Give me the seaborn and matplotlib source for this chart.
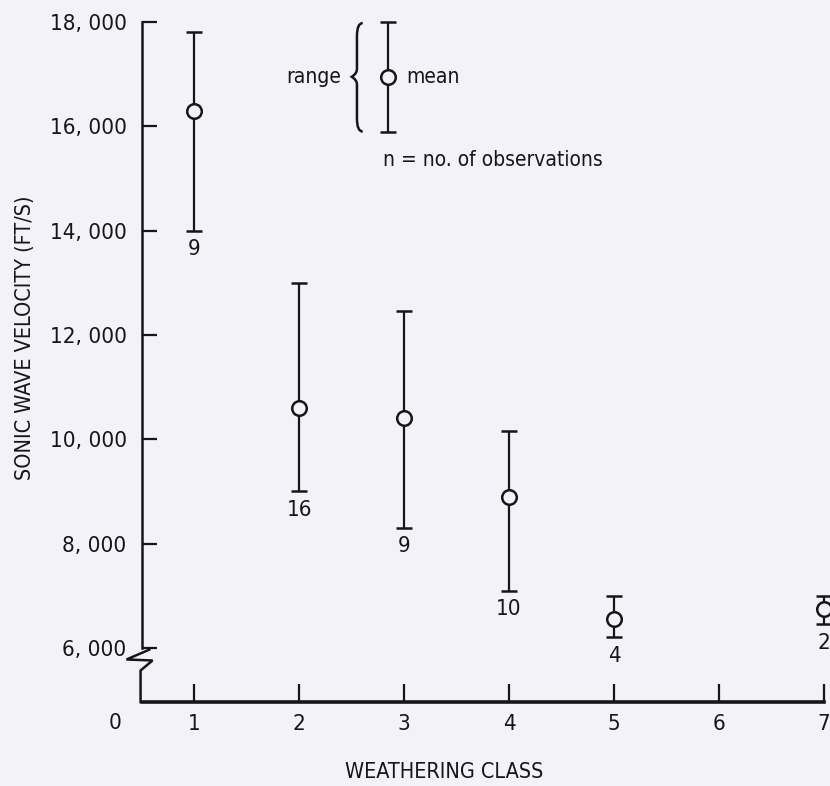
import matplotlib
matplotlib.use('Agg')
import matplotlib.pyplot as plt
from matplotlib.path import Path
from matplotlib.patches import PathPatch
import seaborn as sns
import pandas as pd

# weathering class vs sonic wave velocity (ft/s)
classes = [1, 2, 3, 4, 5, 7]
mean_vel = [16300, 10600, 10400, 8900, 6550, 6740]
min_vel = [14000, 9000, 8300, 7100, 6200, 6450]
max_vel = [17800, 13000, 12450, 10150, 7000, 7000]
n_obs = [9, 16, 9, 10, 4, 2]

y_ticks = [6000, 8000, 10000, 12000, 14000, 16000, 18000]
y_ticklabels = ['6, 000', '8, 000', '10, 000', '12, 000', '14, 000', '16, 000', '18, 000']
x_ticks = [1, 2, 3, 4, 5, 6, 7]

df = pd.DataFrame({'cls': classes, 'mean': mean_vel, 'lo': min_vel, 'hi': max_vel, 'n': n_obs})

sns.set_theme(style='white')
plt.rcParams['font.family'] = ['DejaVu Sans']
plt.rcParams['font.stretch'] = 'condensed'
ink = '#161616'
bg = '#f3f2f8'

fig = plt.figure(figsize=(8.3, 7.86), dpi=100, facecolor=bg)
ax = fig.add_axes([0.171, 0.107, 0.829, 0.865])
ax.set_facecolor(bg)

# range bars
ax.errorbar(df['cls'], df['mean'],
            yerr=[df['mean'] - df['lo'], df['hi'] - df['mean']],
            fmt='none', ecolor=ink, elinewidth=1.6, capsize=5.5, capthick=1.8, zorder=2)
# means
sns.scatterplot(data=df, x='cls', y='mean', ax=ax, s=110, marker='o',
                facecolor=bg, edgecolor=ink, linewidth=1.8, zorder=3, clip_on=False)

for c, lo, n in zip(classes, min_vel, n_obs):
    ax.annotate(str(n), (c, lo), xytext=(0, -6), textcoords='offset points',
                ha='center', va='top', fontsize=16, color=ink)

# legend key
lx, llo, lmean, lhi = 2.85, 15900, 16950, 18000
ax.errorbar([lx], [lmean], yerr=[[lmean - llo], [lhi - lmean]], fmt='none',
            ecolor=ink, elinewidth=1.6, capsize=5.5, capthick=1.8, clip_on=False)
ax.scatter([lx], [lmean], s=110, facecolor=bg, edgecolor=ink, linewidth=1.8, zorder=3, clip_on=False)

# curly brace
bt, bb, bm = 17980, 15900, lmean
xr, xv, xt = 2.605, 2.55, 2.50
brace = Path([(xr, bt), (xv, bt), (xv, bt - 250),
              (xv, bm + 150), (xv, bm + 60), (xt, bm),
              (xv, bm - 60), (xv, bm - 150),
              (xv, bb + 250), (xv, bb), (xr, bb)],
             [Path.MOVETO, Path.CURVE3, Path.CURVE3,
              Path.LINETO, Path.CURVE3, Path.CURVE3,
              Path.CURVE3, Path.CURVE3,
              Path.LINETO, Path.CURVE3, Path.CURVE3])
ax.add_patch(PathPatch(brace, facecolor='none', edgecolor=ink, lw=1.8, clip_on=False))

ax.text(2.40, lmean, 'range', ha='right', va='center', fontsize=15, color=ink)
ax.text(3.02, lmean, 'mean', ha='left', va='center', fontsize=15, color=ink)
ax.text(2.80, 15350, 'n = no. of observations', ha='left', va='center', fontsize=15, color=ink)

# axes
ax.set_xlim(0.5, 7.06)
ax.set_ylim(4965, 18000)
ax.set_xticks(x_ticks)
ax.set_xticklabels([str(t) for t in x_ticks])
ax.set_yticks(y_ticks)
ax.set_yticklabels(y_ticklabels)
ax.tick_params(axis='y', direction='in', length=11, width=1.6, pad=11, labelsize=16, colors=ink, left=True)
ax.tick_params(axis='x', direction='in', length=13, width=1.6, pad=9, labelsize=16, colors=ink, bottom=True)

for s in ['top', 'right']:
    ax.spines[s].set_visible(False)
ax.spines['left'].set_bounds(6000, 18000)
ax.spines['left'].set_linewidth(1.8)
ax.spines['left'].set_color(ink)
ax.spines['bottom'].set_bounds(0.5, 7)
ax.spines['bottom'].set_linewidth(2.6)
ax.spines['bottom'].set_color(ink)

# axis break
ax.plot([0.573, 0.353, 0.601, 0.487, 0.487, 0.5], [5969, 5778, 5759, 5567, 4965, 4965],
        color=ink, lw=1.8, clip_on=False, solid_joinstyle='miter')

ax.text(0.24, -0.016, '0', transform=ax.get_xaxis_transform(),
        ha='center', va='top', fontsize=16, color=ink)

ax.set_xlabel('WEATHERING CLASS', fontsize=15.5, color=ink)
ax.set_ylabel('SONIC WAVE VELOCITY (FT/S)', fontsize=15.5, color=ink)
ax.xaxis.set_label_coords(0.440, -0.088)
ax.yaxis.set_label_coords(-0.155, 0.535)

fig.savefig('out.png', dpi=100, facecolor=bg)
